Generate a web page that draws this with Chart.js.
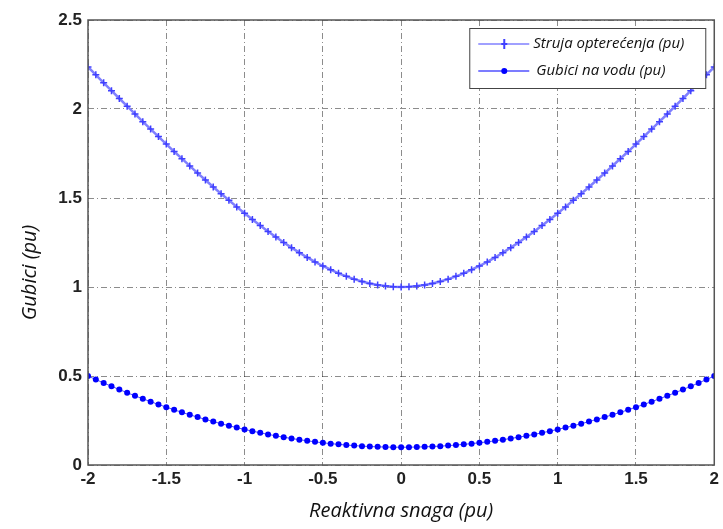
<!DOCTYPE html>
<html lang="sr">
<head>
  <meta charset="UTF-8" />
  <title>Gubici</title>
  <script src="https://cdn.jsdelivr.net/npm/chart.js@4.4.0/dist/chart.umd.min.js"></script>
  <style>
    html, body { margin: 0; padding: 0; background: #fff; }
    #wrap { width: 723px; height: 529px; }
  </style>
</head>
<body>
  <div id="wrap"><canvas id="lossChart" width="723" height="529"></canvas></div>

  <script>
    // reaktivna snaga (pu), korak 0.05
    const snaga = [
      -2.00, -1.95, -1.90, -1.85, -1.80, -1.75, -1.70, -1.65, -1.60, -1.55,
      -1.50, -1.45, -1.40, -1.35, -1.30, -1.25, -1.20, -1.15, -1.10, -1.05,
      -1.00, -0.95, -0.90, -0.85, -0.80, -0.75, -0.70, -0.65, -0.60, -0.55,
      -0.50, -0.45, -0.40, -0.35, -0.30, -0.25, -0.20, -0.15, -0.10, -0.05,
      0.00,
      0.05, 0.10, 0.15, 0.20, 0.25, 0.30, 0.35, 0.40, 0.45, 0.50,
      0.55, 0.60, 0.65, 0.70, 0.75, 0.80, 0.85, 0.90, 0.95, 1.00,
      1.05, 1.10, 1.15, 1.20, 1.25, 1.30, 1.35, 1.40, 1.45, 1.50,
      1.55, 1.60, 1.65, 1.70, 1.75, 1.80, 1.85, 1.90, 1.95, 2.00
    ];

    const struja = [
      2.236, 2.192, 2.147, 2.103, 2.059, 2.016, 1.972, 1.929, 1.887, 1.845,
      1.803, 1.761, 1.721, 1.680, 1.640, 1.601, 1.562, 1.524, 1.487, 1.450,
      1.414, 1.379, 1.345, 1.312, 1.281, 1.250, 1.221, 1.193, 1.166, 1.141,
      1.118, 1.097, 1.077, 1.060, 1.044, 1.031, 1.020, 1.011, 1.005, 1.001,
      1.000,
      1.001, 1.005, 1.011, 1.020, 1.031, 1.044, 1.060, 1.077, 1.097, 1.118,
      1.141, 1.166, 1.193, 1.221, 1.250, 1.281, 1.312, 1.345, 1.379, 1.414,
      1.450, 1.487, 1.524, 1.562, 1.601, 1.640, 1.680, 1.721, 1.761, 1.803,
      1.845, 1.887, 1.929, 1.972, 2.016, 2.059, 2.103, 2.147, 2.192, 2.236
    ];

    const gubici = [
      0.500, 0.480, 0.461, 0.442, 0.424, 0.406, 0.389, 0.372, 0.356, 0.340,
      0.325, 0.310, 0.296, 0.282, 0.269, 0.256, 0.244, 0.232, 0.221, 0.210,
      0.200, 0.190, 0.181, 0.172, 0.164, 0.156, 0.149, 0.142, 0.136, 0.130,
      0.125, 0.120, 0.116, 0.112, 0.109, 0.106, 0.104, 0.102, 0.101, 0.100,
      0.100,
      0.100, 0.101, 0.102, 0.104, 0.106, 0.109, 0.112, 0.116, 0.120, 0.125,
      0.130, 0.136, 0.142, 0.149, 0.156, 0.164, 0.172, 0.181, 0.190, 0.200,
      0.210, 0.221, 0.232, 0.244, 0.256, 0.269, 0.282, 0.296, 0.310, 0.325,
      0.340, 0.356, 0.372, 0.389, 0.406, 0.424, 0.442, 0.461, 0.480, 0.500
    ];

    const xTicks = [-2, -1.5, -1, -0.5, 0, 0.5, 1, 1.5, 2];
    const yTicks = [0, 0.5, 1, 1.5, 2, 2.5];

    const naziviSerija = ["Struja opterećenja (pu)", "Gubici na vodu (pu)"];
    const xNaslov = "Reaktivna snaga (pu)";
    const yNaslov = "Gubici (pu)";
  </script>

  <script>
    const tickFont = { family: "Liberation Sans, Arial", size: 17, weight: "bold" };
    const tickColor = "#222";

    // okvir oko grafika (MATLAB box)
    const boxPlugin = {
      id: "box",
      afterDatasetsDraw(chart) {
        const { ctx, chartArea: a } = chart;
        ctx.save();
        ctx.strokeStyle = "#555";
        ctx.lineWidth = 1.5;
        ctx.strokeRect(a.left, a.top, a.right - a.left, a.bottom - a.top);
        ctx.restore();
      }
    };

    // naslov y ose
    const yTitlePlugin = {
      id: "yTitle",
      afterDraw(chart) {
        const { ctx, chartArea: a } = chart;
        ctx.save();
        ctx.translate(30, (a.top + a.bottom) / 2 + 30);
        ctx.rotate(-Math.PI / 2);
        ctx.font = "italic 20px 'Open Sans'";
        ctx.fillStyle = "#111";
        ctx.textAlign = "center";
        ctx.textBaseline = "middle";
        ctx.fillText(yNaslov, 0, 0);
        ctx.restore();
      }
    };

    // legenda u gornjem desnom uglu
    const legendPlugin = {
      id: "boxLegend",
      afterDraw(chart) {
        const { ctx, chartArea: a } = chart;
        const w = 236, h = 60;
        const x0 = a.right - 9 - w, y0 = a.top + 8;
        ctx.save();
        ctx.fillStyle = "#fff";
        ctx.fillRect(x0, y0, w, h);
        ctx.strokeStyle = "#444";
        ctx.lineWidth = 1;
        ctx.strokeRect(x0 + 0.5, y0 + 0.5, w, h);
        ctx.font = "italic 15px 'Open Sans'";
        ctx.textBaseline = "middle";
        chart.data.datasets.forEach((ds, i) => {
          const y = y0 + 16 + i * 27;
          ctx.strokeStyle = ds.borderColor;
          ctx.lineWidth = 1.5;
          ctx.beginPath();
          ctx.moveTo(x0 + 9, y);
          ctx.lineTo(x0 + 60, y);
          ctx.stroke();
          const mx = x0 + 35;
          if (ds.pointStyle === "cross") {
            ctx.strokeStyle = ds.pointBorderColor;
            ctx.lineWidth = 2;
            ctx.beginPath();
            ctx.moveTo(mx - 3, y); ctx.lineTo(mx + 3, y);
            ctx.moveTo(mx, y - 5); ctx.lineTo(mx, y + 5);
            ctx.stroke();
          } else {
            ctx.fillStyle = ds.pointBackgroundColor;
            ctx.beginPath();
            ctx.arc(mx, y, 3, 0, Math.PI * 2);
            ctx.fill();
          }
          ctx.fillStyle = "#111";
          ctx.fillText(ds.label, x0 + (i === 0 ? 64 : 67), y);
        });
        ctx.restore();
      }
    };

    new Chart(document.getElementById("lossChart"), {
      type: "line",
      data: {
        datasets: [
          {
            label: naziviSerija[0],
            data: snaga.map((x, i) => ({ x: x, y: struja[i] })),
            borderColor: "#8080ff",
            borderWidth: 2.5,
            pointStyle: "cross",
            pointRadius: 3.5,
            pointBorderColor: "#4040ff",
            pointBorderWidth: 1.5,
            pointBackgroundColor: "#4040ff",
            tension: 0
          },
          {
            label: naziviSerija[1],
            data: snaga.map((x, i) => ({ x: x, y: gubici[i] })),
            borderColor: "#5050ff",
            borderWidth: 1,
            pointStyle: "circle",
            pointRadius: 3,
            pointBorderWidth: 0,
            pointBackgroundColor: "#0000ff",
            pointBorderColor: "#0000ff",
            tension: 0
          }
        ]
      },
      options: {
        responsive: false,
        animation: false,
        layout: { padding: { left: 0, right: 2, top: 20, bottom: 0 } },
        plugins: {
          legend: { display: false },
          tooltip: { enabled: false }
        },
        scales: {
          x: {
            type: "linear",
            min: -2,
            max: 2,
            afterBuildTicks: (s) => { s.ticks = xTicks.map(v => ({ value: v })); },
            afterFit: (s) => { s.height = 64; },
            ticks: {
              font: tickFont, color: tickColor, padding: 4, maxRotation: 0,
              callback: (v) => String(v)
            },
            grid: {
              color: "rgba(0,0,0,0.45)",
              lineWidth: 1,
              drawTicks: false
            },
            border: { display: false, dash: [6, 3, 1, 3] },
            title: {
              display: true,
              text: xNaslov,
              color: "#111",
              font: { family: "Open Sans", size: 20, style: "italic" },
              padding: { top: 0, bottom: 6 }
            }
          },
          y: {
            min: 0,
            max: 2.5,
            afterBuildTicks: (s) => { s.ticks = yTicks.map(v => ({ value: v })); },
            afterFit: (s) => { s.width = 88; },
            ticks: { font: tickFont, color: tickColor, padding: 6, callback: (v) => String(v) },
            grid: {
              color: "rgba(0,0,0,0.45)",
              lineWidth: 1,
              drawTicks: false
            },
            border: { display: false, dash: [6, 3, 1, 3] }
          }
        }
      },
      plugins: [boxPlugin, yTitlePlugin, legendPlugin]
    });
  </script>
</body>
</html>
